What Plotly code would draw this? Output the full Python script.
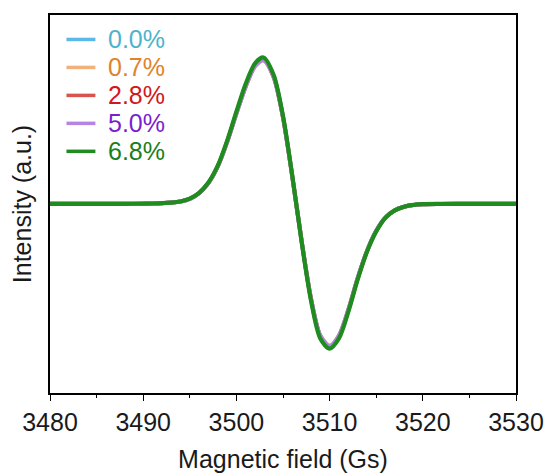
import plotly.graph_objects as go

# Magnetic field (Gs)
field = [3480, 3485, 3488, 3490, 3491, 3492, 3493, 3494, 3495, 3496, 3497, 3498,
         3499, 3500, 3501, 3502, 3502.9, 3504, 3505, 3506, 3507, 3508, 3509, 3510,
         3511, 3512, 3513, 3514, 3515, 3516, 3517, 3518, 3519, 3520, 3522, 3525, 3530]

# Intensity (a.u.)
int_00 = [0, 0, 0, 0.001, 0.002, 0.004, 0.008, 0.016, 0.034, 0.073, 0.142, 0.255,
          0.42, 0.615, 0.80, 0.94, 0.98, 0.865, 0.59, 0.185, -0.255, -0.645, -0.90, -0.97,
          -0.90, -0.725, -0.51, -0.325, -0.185, -0.093, -0.044, -0.02, -0.008, -0.003, -0.001, 0, 0]
int_07 = [0, 0, 0, 0.001, 0.002, 0.004, 0.008, 0.016, 0.034, 0.073, 0.142, 0.254,
          0.42, 0.615, 0.80, 0.938, 0.978, 0.862, 0.588, 0.184, -0.254, -0.643, -0.90, -0.968,
          -0.90, -0.724, -0.51, -0.324, -0.185, -0.093, -0.044, -0.02, -0.008, -0.003, -0.001, 0, 0]
int_28 = [0, 0, 0, 0.001, 0.002, 0.004, 0.008, 0.016, 0.034, 0.074, 0.143, 0.256,
          0.422, 0.62, 0.805, 0.945, 0.985, 0.868, 0.592, 0.186, -0.256, -0.65, -0.905, -0.978,
          -0.905, -0.73, -0.512, -0.326, -0.186, -0.094, -0.044, -0.02, -0.008, -0.003, -0.001, 0, 0]
int_50 = [0, 0, 0, 0.001, 0.002, 0.004, 0.008, 0.016, 0.034, 0.073, 0.142, 0.255,
          0.421, 0.617, 0.802, 0.942, 0.982, 0.866, 0.59, 0.185, -0.255, -0.647, -0.902, -0.974,
          -0.902, -0.727, -0.511, -0.325, -0.185, -0.093, -0.044, -0.02, -0.008, -0.003, -0.001, 0, 0]
int_68 = [0, 0, 0, 0.001, 0.002, 0.004, 0.008, 0.016, 0.035, 0.075, 0.145, 0.26,
          0.43, 0.63, 0.82, 0.96, 1.0, 0.88, 0.60, 0.19, -0.26, -0.66, -0.92, -0.99,
          -0.92, -0.74, -0.52, -0.33, -0.19, -0.095, -0.045, -0.02, -0.008, -0.003, -0.001, 0, 0]

labels = ["0.0%", "0.7%", "2.8%", "5.0%", "6.8%"]
series = [int_00, int_07, int_28, int_50, int_68]
line_colors = ["#5BB8E8", "#F0B27A", "#D9534F", "#B683E6", "#1E8C1E"]
text_colors = ["#4DB3CC", "#E0832A", "#D0181C", "#7A1FD0", "#1A7F1A"]
widths = [4, 4, 4, 4, 4.2]

# plot-area geometry in pixels (used for legend placement)
L, R, T, B = 49.5, 33.5, 14.5, 82
W, H = 550, 475
pw, ph = W - L - R, H - T - B

fig = go.Figure()
for lab, ys, lc, w in zip(labels, series, line_colors, widths):
    fig.add_trace(go.Scatter(
        x=field, y=ys, mode="lines", name=lab, showlegend=False,
        line=dict(color=lc, width=w, shape="spline", smoothing=0.8)))

# manual legend (line sample + coloured label)
for i, (lab, lc, tc) in enumerate(zip(labels, line_colors, text_colors)):
    ypx = 39 + 28 * i
    yp = (H - B - ypx) / ph
    fig.add_shape(type="line", xref="paper", yref="paper",
                  x0=(66 - L) / pw, x1=(95 - L) / pw, y0=yp, y1=yp,
                  line=dict(color=lc, width=3.5))
    fig.add_annotation(xref="paper", yref="paper", x=(106 - L) / pw, y=yp,
                       xanchor="left", yanchor="middle", showarrow=False,
                       text=lab, font=dict(size=25, color=tc))

font_family = "Arial, Liberation Sans, sans-serif"
fig.update_layout(
    width=W, height=H,
    margin=dict(l=L, r=R, t=T, b=B, autoexpand=False),
    paper_bgcolor="white", plot_bgcolor="white",
    font=dict(family=font_family, size=25, color="#1a1a1a"),
    showlegend=False,
    xaxis=dict(range=[3480, 3530], tickvals=[3480, 3490, 3500, 3510, 3520, 3530],
               ticks="outside", ticklen=6, tickwidth=1.3, tickcolor="black",
               minor=dict(tickvals=[3485, 3495, 3505, 3515, 3525], ticks="outside", ticklen=3,
                          tickwidth=1.3, tickcolor="black"),
               showline=True, linecolor="black", linewidth=1.5, mirror=True,
               showgrid=False, zeroline=False, automargin=False,
               tickfont=dict(size=25),
               title=dict(text="Magnetic field (Gs)", font=dict(size=25), standoff=16)),
    yaxis=dict(range=[-1.293, 1.29], showticklabels=False, ticks="",
               showline=True, linecolor="black", linewidth=1.5, mirror=True,
               showgrid=False, zeroline=False, automargin=False,
               title=dict(text="Intensity (a.u.)", font=dict(size=25), standoff=10)),
)

fig.write_html("out.html")
